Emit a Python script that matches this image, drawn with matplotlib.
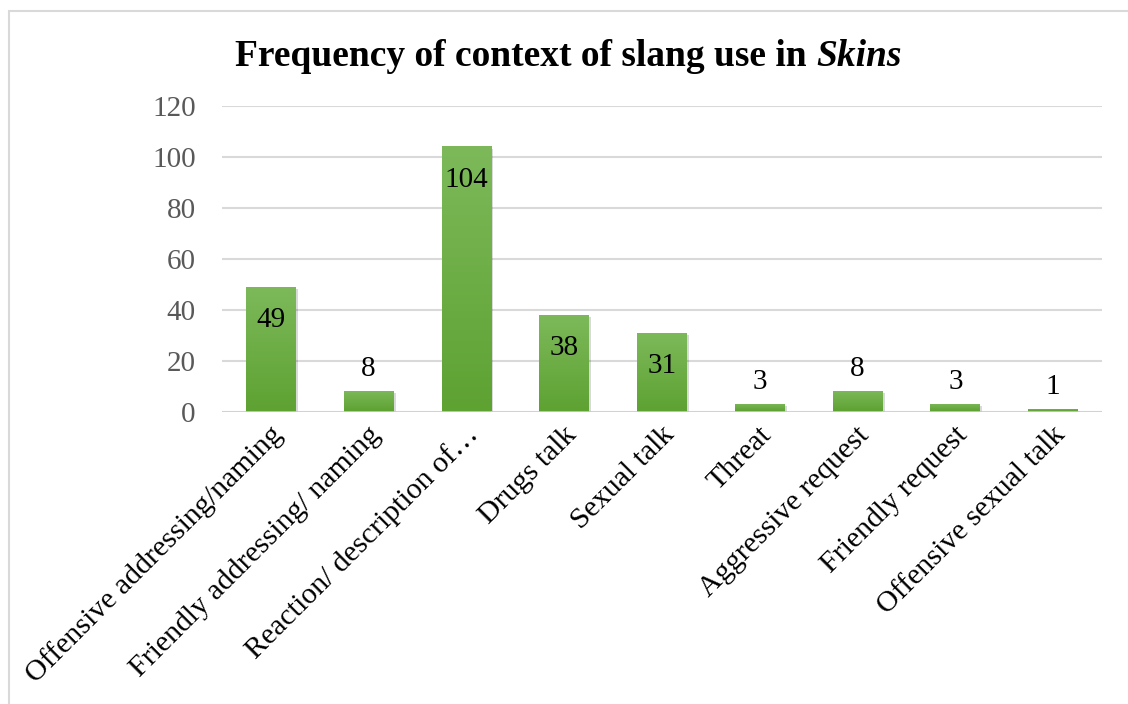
import matplotlib
matplotlib.use("Agg")
import matplotlib.pyplot as plt
import numpy as np
from matplotlib.patches import Rectangle
from matplotlib.colors import LinearSegmentedColormap
import matplotlib.transforms as mtransforms
import matplotlib.patheffects as pe

categories = ["Offensive addressing/naming", "Friendly addressing/ naming",
              "Reaction/ description of\u2026", "Drugs talk", "Sexual talk",
              "Threat", "Aggressive request", "Friendly request",
              "Offensive sexual talk"]
values = [49, 8, 104, 38, 31, 3, 8, 3, 1]
yticks = [0, 20, 40, 60, 80, 100, 120]

plt.rcParams['font.family'] = ['Liberation Serif', 'DejaVu Serif']

fig = plt.figure(figsize=(11.28, 7.04), dpi=100)
fig.patch.set_facecolor('white')
# chart-area border (partially cut on right/bottom)
fig.patches.append(Rectangle((9/1128, -0.05), 1.1, 1 - 11/704 + 0.05,
                             transform=fig.transFigure, fill=False,
                             edgecolor='#d9d9d9', lw=1.5))

ax = fig.add_axes([222/1128, 1 - 411.5/704, 880/1128, (411.5 - 105.7)/704])
x = np.arange(len(values))
width = 0.51
bars = ax.bar(x, values, width=width, color='#6aac3f', zorder=3, linewidth=0)
for b in bars:
    b.set_path_effects([pe.SimplePatchShadow(offset=(1.5, -1.5), shadow_rgbFace='#000000',
                                             alpha=0.15), pe.Normal()])

cmap = LinearSegmentedColormap.from_list('g', ['#5ea232', '#7db95a'])
grad = np.linspace(0, 1, 256).reshape(-1, 1)
for b in bars:
    x0, h = b.get_x(), b.get_height()
    im = ax.imshow(grad, extent=[x0, x0 + width, 0, h], origin='lower',
                   cmap=cmap, aspect='auto', zorder=4)
    im.set_clip_path(b)

ax.set_xlim(-0.5, len(values) - 0.5)
ax.set_ylim(0, 120)
ax.set_yticks(yticks)
ax.set_yticklabels([str(t) for t in yticks], color='#595959', fontsize=21)
ax.tick_params(axis='y', length=0, pad=19)
ax.yaxis.grid(True, color='#d9d9d9', lw=1.5, zorder=0)
ax.set_axisbelow(True)
for s in ax.spines.values():
    s.set_visible(False)
ax.axhline(0, color='#d0d0d0', lw=1.8, zorder=5)

ax.set_xticks(x)
ax.set_xticklabels(categories, rotation=45, ha='right', va='center',
                   rotation_mode='anchor', fontsize=21.5, color='black')
ax.tick_params(axis='x', length=0, pad=14)
offset = mtransforms.ScaledTranslation(8/100, 0, fig.dpi_scale_trans)
for lab in ax.get_xticklabels():
    lab.set_transform(lab.get_transform() + offset)

for xi, v in zip(x, values):
    if v >= 20:
        ax.annotate(str(v), (xi, v), xytext=(0, -24), textcoords='offset points',
                    ha='center', va='center', fontsize=21, color='black', zorder=6)
    else:
        ax.annotate(str(v), (xi, v), xytext=(0, 16), textcoords='offset points',
                    ha='center', va='center', fontsize=21, color='black', zorder=6)

t1 = fig.text(0, 0, "Frequency of context of slang use in ", fontsize=27, fontweight='bold')
t2 = fig.text(0, 0, "Skins", fontsize=27, fontweight='bold', style='italic')
fig.canvas.draw()
r = fig.canvas.get_renderer()
w1 = t1.get_window_extent(r).width
w2 = t2.get_window_extent(r).width
total = w1 + w2
cx = 568.5
start = cx - total / 2
ybase = 704 - 66
t1.set_position((start / 1128, ybase / 704))
t1.set_va('baseline')
t2.set_position(((start + w1) / 1128, ybase / 704))
t2.set_va('baseline')

fig.savefig("out.png", dpi=100)
